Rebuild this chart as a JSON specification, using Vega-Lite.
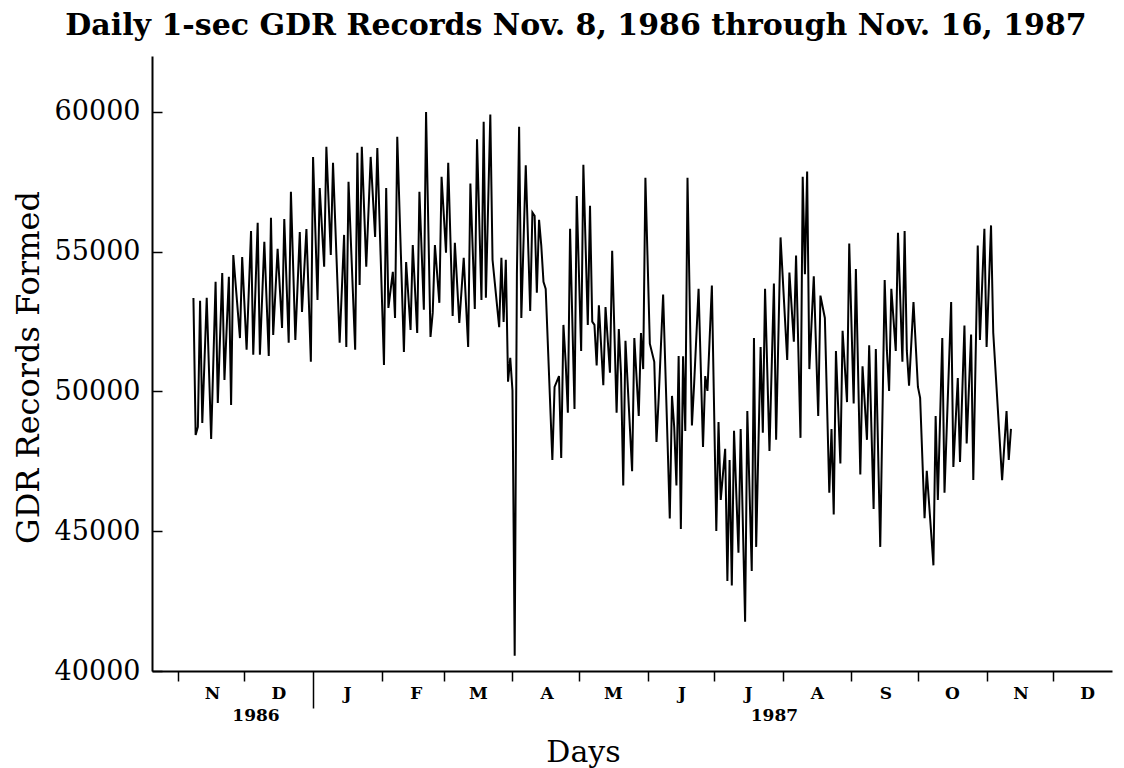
{
  "$schema": "https://vega.github.io/schema/vega-lite/v6.json",
  "width": 960,
  "height": 615,
  "autosize": {"type": "none"},
  "padding": {"left": 152, "top": 56, "right": 12, "bottom": 97},
  "background": "white",
  "config": {"view": {"stroke": null}, "font": "DejaVu Serif"},
  "title": {
    "text": "Daily 1-sec GDR Records Nov. 8, 1986 through Nov. 16, 1987",
    "font": "DejaVu Serif",
    "fontSize": 30,
    "fontWeight": "bold",
    "color": "black",
    "anchor": "middle",
    "dx": -56,
    "offset": 15
  },
  "layer": [
    {
      "data": {
        "values": [
          {"day": 0, "gdr": 53340}, {"day": 1, "gdr": 48440}, {"day": 2, "gdr": 48730}, {"day": 3, "gdr": 53240},
          {"day": 4, "gdr": 48870}, {"day": 6, "gdr": 53350}, {"day": 8, "gdr": 48300}, {"day": 10, "gdr": 53920},
          {"day": 11, "gdr": 49590}, {"day": 13, "gdr": 54240}, {"day": 14, "gdr": 50410}, {"day": 16, "gdr": 54100},
          {"day": 17, "gdr": 49520}, {"day": 18, "gdr": 54880}, {"day": 21, "gdr": 51910}, {"day": 22, "gdr": 54810},
          {"day": 24, "gdr": 51490}, {"day": 26, "gdr": 55740}, {"day": 27, "gdr": 51310}, {"day": 29, "gdr": 56030},
          {"day": 30, "gdr": 51310}, {"day": 32, "gdr": 55350}, {"day": 34, "gdr": 51270}, {"day": 35, "gdr": 56210},
          {"day": 36, "gdr": 52020}, {"day": 38, "gdr": 55100}, {"day": 40, "gdr": 52270}, {"day": 41, "gdr": 56170},
          {"day": 43, "gdr": 51740}, {"day": 44, "gdr": 57140}, {"day": 46, "gdr": 51840}, {"day": 48, "gdr": 55700},
          {"day": 49, "gdr": 52840}, {"day": 51, "gdr": 55810}, {"day": 53, "gdr": 51060}, {"day": 54, "gdr": 58390},
          {"day": 56, "gdr": 53270}, {"day": 57, "gdr": 57280}, {"day": 59, "gdr": 54460}, {"day": 60, "gdr": 58750},
          {"day": 62, "gdr": 54880}, {"day": 63, "gdr": 58180}, {"day": 66, "gdr": 51740}, {"day": 68, "gdr": 55600},
          {"day": 69, "gdr": 51590}, {"day": 70, "gdr": 57500}, {"day": 73, "gdr": 51490}, {"day": 74, "gdr": 58540},
          {"day": 75, "gdr": 53810}, {"day": 76, "gdr": 58750}, {"day": 78, "gdr": 54460}, {"day": 80, "gdr": 58390},
          {"day": 82, "gdr": 55530}, {"day": 83, "gdr": 58710}, {"day": 86, "gdr": 50950}, {"day": 87, "gdr": 57280},
          {"day": 88, "gdr": 52990}, {"day": 90, "gdr": 54280}, {"day": 91, "gdr": 52630}, {"day": 92, "gdr": 59110},
          {"day": 95, "gdr": 51410}, {"day": 96, "gdr": 54630}, {"day": 98, "gdr": 52200}, {"day": 99, "gdr": 55240},
          {"day": 101, "gdr": 52090}, {"day": 102, "gdr": 57140}, {"day": 104, "gdr": 52920}, {"day": 105, "gdr": 60000},
          {"day": 107, "gdr": 51950}, {"day": 108, "gdr": 52810}, {"day": 109, "gdr": 55240}, {"day": 111, "gdr": 53170},
          {"day": 112, "gdr": 57680}, {"day": 114, "gdr": 54960}, {"day": 115, "gdr": 58180}, {"day": 117, "gdr": 52700},
          {"day": 118, "gdr": 55320}, {"day": 120, "gdr": 52450}, {"day": 122, "gdr": 54780}, {"day": 124, "gdr": 51590},
          {"day": 125, "gdr": 57440}, {"day": 127, "gdr": 52950}, {"day": 128, "gdr": 59020}, {"day": 130, "gdr": 53270},
          {"day": 131, "gdr": 59650}, {"day": 132, "gdr": 53350}, {"day": 134, "gdr": 59910}, {"day": 135, "gdr": 54710},
          {"day": 138, "gdr": 52300}, {"day": 139, "gdr": 54780}, {"day": 140, "gdr": 52490}, {"day": 141, "gdr": 54710},
          {"day": 142, "gdr": 50350}, {"day": 143, "gdr": 51200}, {"day": 144, "gdr": 50030}, {"day": 145, "gdr": 40550},
          {"day": 146, "gdr": 54190}, {"day": 147, "gdr": 59470}, {"day": 148, "gdr": 52630}, {"day": 150, "gdr": 58090},
          {"day": 152, "gdr": 52880}, {"day": 153, "gdr": 56400}, {"day": 154, "gdr": 56280}, {"day": 155, "gdr": 53530},
          {"day": 156, "gdr": 56140}, {"day": 157, "gdr": 55220}, {"day": 158, "gdr": 53920}, {"day": 159, "gdr": 53670},
          {"day": 162, "gdr": 47550}, {"day": 163, "gdr": 50160}, {"day": 165, "gdr": 50550}, {"day": 166, "gdr": 47620},
          {"day": 167, "gdr": 52380}, {"day": 168, "gdr": 51060}, {"day": 169, "gdr": 49240}, {"day": 170, "gdr": 55820},
          {"day": 172, "gdr": 49370}, {"day": 173, "gdr": 56990}, {"day": 175, "gdr": 51450}, {"day": 176, "gdr": 58110},
          {"day": 178, "gdr": 52380}, {"day": 179, "gdr": 56640}, {"day": 180, "gdr": 52500}, {"day": 181, "gdr": 52380},
          {"day": 182, "gdr": 50930}, {"day": 183, "gdr": 53080}, {"day": 185, "gdr": 50220}, {"day": 186, "gdr": 53020},
          {"day": 188, "gdr": 50670}, {"day": 189, "gdr": 55030}, {"day": 191, "gdr": 49240}, {"day": 192, "gdr": 52230},
          {"day": 193, "gdr": 50610}, {"day": 194, "gdr": 46640}, {"day": 195, "gdr": 51810}, {"day": 198, "gdr": 47150},
          {"day": 199, "gdr": 51910}, {"day": 201, "gdr": 49120}, {"day": 202, "gdr": 52090}, {"day": 203, "gdr": 50800},
          {"day": 204, "gdr": 57640}, {"day": 206, "gdr": 51710}, {"day": 208, "gdr": 51060}, {"day": 209, "gdr": 48190},
          {"day": 210, "gdr": 49770}, {"day": 212, "gdr": 53470}, {"day": 214, "gdr": 48190}, {"day": 215, "gdr": 45460},
          {"day": 216, "gdr": 49840}, {"day": 217, "gdr": 48730}, {"day": 218, "gdr": 46640}, {"day": 219, "gdr": 51270},
          {"day": 220, "gdr": 45080}, {"day": 221, "gdr": 51260}, {"day": 222, "gdr": 48590}, {"day": 223, "gdr": 57640},
          {"day": 225, "gdr": 48780}, {"day": 226, "gdr": 50280}, {"day": 228, "gdr": 53670}, {"day": 230, "gdr": 48010},
          {"day": 231, "gdr": 50550}, {"day": 232, "gdr": 50020}, {"day": 234, "gdr": 53790}, {"day": 236, "gdr": 45010},
          {"day": 237, "gdr": 48910}, {"day": 238, "gdr": 46120}, {"day": 240, "gdr": 47950}, {"day": 241, "gdr": 43220},
          {"day": 242, "gdr": 47550}, {"day": 243, "gdr": 43060}, {"day": 244, "gdr": 48590}, {"day": 246, "gdr": 44230},
          {"day": 247, "gdr": 48660}, {"day": 249, "gdr": 41760}, {"day": 250, "gdr": 49300}, {"day": 252, "gdr": 43580},
          {"day": 253, "gdr": 51910}, {"day": 254, "gdr": 44440}, {"day": 256, "gdr": 51590}, {"day": 257, "gdr": 48520},
          {"day": 258, "gdr": 53670}, {"day": 260, "gdr": 47870}, {"day": 262, "gdr": 53860}, {"day": 263, "gdr": 48270},
          {"day": 265, "gdr": 55510}, {"day": 268, "gdr": 51130}, {"day": 269, "gdr": 54250}, {"day": 271, "gdr": 51780},
          {"day": 272, "gdr": 54860}, {"day": 274, "gdr": 48340}, {"day": 275, "gdr": 57680}, {"day": 276, "gdr": 54190},
          {"day": 277, "gdr": 57870}, {"day": 278, "gdr": 50800}, {"day": 280, "gdr": 54120}, {"day": 282, "gdr": 49120},
          {"day": 283, "gdr": 53430}, {"day": 285, "gdr": 52630}, {"day": 287, "gdr": 46380}, {"day": 288, "gdr": 48660},
          {"day": 289, "gdr": 45600}, {"day": 290, "gdr": 51450}, {"day": 292, "gdr": 47420}, {"day": 293, "gdr": 52170},
          {"day": 295, "gdr": 49620}, {"day": 296, "gdr": 55290}, {"day": 298, "gdr": 49570}, {"day": 299, "gdr": 54380},
          {"day": 301, "gdr": 47030}, {"day": 302, "gdr": 50900}, {"day": 304, "gdr": 48270}, {"day": 305, "gdr": 51650},
          {"day": 307, "gdr": 45800}, {"day": 308, "gdr": 51520}, {"day": 310, "gdr": 44440}, {"day": 312, "gdr": 53990},
          {"day": 313, "gdr": 51450}, {"day": 314, "gdr": 50020}, {"day": 315, "gdr": 53670}, {"day": 317, "gdr": 51450},
          {"day": 318, "gdr": 55680}, {"day": 320, "gdr": 51060}, {"day": 321, "gdr": 55740}, {"day": 322, "gdr": 51450},
          {"day": 323, "gdr": 50210}, {"day": 325, "gdr": 53200}, {"day": 327, "gdr": 50160}, {"day": 328, "gdr": 49770},
          {"day": 330, "gdr": 45470}, {"day": 331, "gdr": 47160}, {"day": 334, "gdr": 43780}, {"day": 335, "gdr": 49120},
          {"day": 336, "gdr": 46120}, {"day": 338, "gdr": 51910}, {"day": 339, "gdr": 46380}, {"day": 342, "gdr": 53200},
          {"day": 343, "gdr": 47300}, {"day": 345, "gdr": 50480}, {"day": 346, "gdr": 47480}, {"day": 348, "gdr": 52360},
          {"day": 349, "gdr": 48140}, {"day": 351, "gdr": 52040}, {"day": 352, "gdr": 46830}, {"day": 354, "gdr": 55220},
          {"day": 355, "gdr": 51840}, {"day": 357, "gdr": 55820}, {"day": 358, "gdr": 51590}, {"day": 360, "gdr": 55940},
          {"day": 361, "gdr": 52100}, {"day": 365, "gdr": 46830}, {"day": 367, "gdr": 49300}, {"day": 368, "gdr": 47550},
          {"day": 369, "gdr": 48660}
        ]
      },
      "mark": {"type": "line", "color": "black", "strokeWidth": 2},
      "encoding": {
        "x": {
          "field": "day",
          "type": "quantitative",
          "scale": {"domain": [-18.7, 414.6], "nice": false, "zero": false},
          "axis": {
            "orient": "bottom",
            "values": [-7, 23, 54, 85, 113, 144, 174, 205, 235, 266, 297, 327, 358, 388],
            "labelExpr": "['N','D','J','F','M','A','M','J','J','A','S','O','N','D'][indexof([-7,23,54,85,113,144,174,205,235,266,297,327,358,388], datum.value)]",
            "labelOffset": 34,
            "labelFont": "DejaVu Serif",
            "labelFontWeight": "bold",
            "labelFontSize": 17,
            "labelColor": "black",
            "labelPadding": {"condition": {"test": "datum.value == 54", "value": -23}, "value": 4},
            "labelBaseline": "top",
            "labelAlign": "center",
            "labelFlush": false,
            "labelOverlap": false,
            "tickSize": {"condition": {"test": "datum.value == 54", "value": 37}, "value": 10},
            "tickColor": "black",
            "tickWidth": 1.5,
            "domainColor": "black",
            "domainWidth": 2,
            "grid": false,
            "title": "Days",
            "titleFont": "DejaVu Serif",
            "titleFontSize": 30,
            "titleFontWeight": "normal",
            "titleColor": "black",
            "titleX": 431,
            "titleY": 81,
            "titleBaseline": "middle",
            "titleAlign": "center"
          }
        },
        "y": {
          "field": "gdr",
          "type": "quantitative",
          "scale": {"domain": [40000, 62000], "nice": false, "zero": false},
          "axis": {
            "values": [40000, 45000, 50000, 55000, 60000],
            "format": "d",
            "labelFont": "DejaVu Serif",
            "labelFontSize": 27,
            "labelColor": "black",
            "labelPadding": 22,
            "tickSize": -10,
            "tickColor": "black",
            "tickWidth": 1.5,
            "domainColor": "black",
            "domainWidth": 2,
            "grid": false,
            "title": "GDR Records Formed",
            "titleFont": "DejaVu Serif",
            "titleFontSize": 32,
            "titleFontWeight": "normal",
            "titleColor": "black",
            "titleX": -124,
            "titleY": 311,
            "titleBaseline": "middle",
            "titleAlign": "center",
            "titleAngle": -90
          }
        }
      }
    },
    {
      "data": {"values": [{"day": 28, "year": "1986"}, {"day": 262, "year": "1987"}]},
      "mark": {"type": "rule", "opacity": 0},
      "encoding": {
        "x": {
          "field": "day",
          "type": "quantitative",
          "axis": {
            "orient": "bottom",
            "values": [28, 262],
            "labelExpr": "datum.value == 28 ? '1986' : '1987'",
            "labelFont": "DejaVu Serif",
            "labelFontWeight": "bold",
            "labelFontSize": 17,
            "labelColor": "black",
            "labelBaseline": "top",
            "labelPadding": 36,
            "ticks": false,
            "domain": false,
            "grid": false,
            "title": null
          }
        }
      }
    }
  ],
  "resolve": {"axis": {"x": "independent"}}
}
